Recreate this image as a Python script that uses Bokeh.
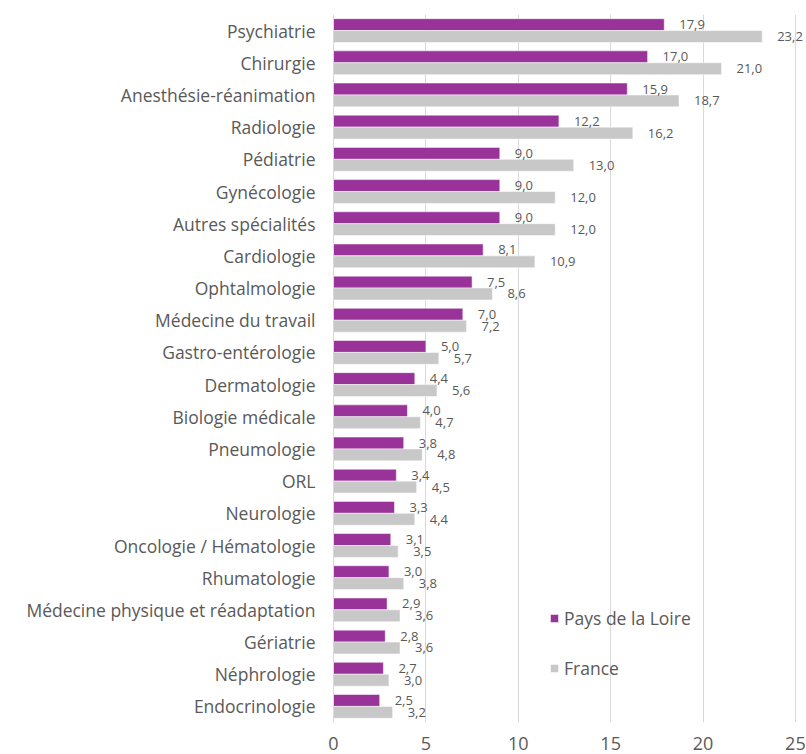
from bokeh.plotting import figure
from bokeh.models import ColumnDataSource, FactorRange, Range1d, Legend, LegendItem, LabelSet
from bokeh.transform import dodge
from bokeh.core.properties import value
from bokeh.embed import file_html
from bokeh.resources import INLINE

categories = ["Psychiatrie", "Chirurgie", "Anesthésie-réanimation", "Radiologie", "Pédiatrie",
              "Gynécologie", "Autres spécialités", "Cardiologie", "Ophtalmologie",
              "Médecine du travail", "Gastro-entérologie", "Dermatologie", "Biologie médicale",
              "Pneumologie", "ORL", "Neurologie", "Oncologie / Hématologie", "Rhumatologie",
              "Médecine physique et réadaptation", "Gériatrie", "Néphrologie", "Endocrinologie"]
pays_de_la_loire = [17.9, 17.0, 15.9, 12.2, 9.0, 9.0, 9.0, 8.1, 7.5, 7.0, 5.0, 4.4, 4.0,
                    3.8, 3.4, 3.3, 3.1, 3.0, 2.9, 2.8, 2.7, 2.5]
france = [23.2, 21.0, 18.7, 16.2, 13.0, 12.0, 12.0, 10.9, 8.6, 7.2, 5.7, 5.6, 4.7,
          4.8, 4.5, 4.4, 3.5, 3.8, 3.6, 3.6, 3.0, 3.2]
x_ticks = [0, 5, 10, 15, 20, 25]

PURPLE = "#993399"
GRAY = "#c8c8c8"
TXT = "#595959"
FONT = "Open Sans"

def fmt(v):
    return f"{v:.1f}".replace(".", ",")

src = ColumnDataSource(dict(
    cat=categories, pdl=pays_de_la_loire, fr=france,
    pdl_lbl=[fmt(v) for v in pays_de_la_loire],
    fr_lbl=[fmt(v) for v in france],
))

p = figure(width=806, height=754, output_backend="svg", toolbar_location=None,
           y_range=FactorRange(factors=list(reversed(categories)), range_padding=0),
           x_range=Range1d(0, 25.6),
           min_border_left=333, min_border_right=0, min_border_top=14, min_border_bottom=32)
p.outline_line_color = None
p.background_fill_color = "white"

bw = 0.37
off = 0.185
r1 = p.hbar(y=dodge("cat", off, range=p.y_range), right="pdl", left=0, height=bw,
            source=src, fill_color=PURPLE, line_color="white", line_width=0.5)
r2 = p.hbar(y=dodge("cat", -off, range=p.y_range), right="fr", left=0, height=bw,
            source=src, fill_color=GRAY, line_color="white", line_width=0.5)

l1 = LabelSet(x="pdl", y=dodge("cat", off, range=p.y_range), text="pdl_lbl", source=src,
              x_offset=15, text_baseline="middle", text_font=value(FONT),
              text_font_size=value("13px"), text_color=TXT)
l2 = LabelSet(x="fr", y=dodge("cat", -off, range=p.y_range), text="fr_lbl", source=src,
              x_offset=15, text_baseline="middle", text_font=value(FONT),
              text_font_size=value("13px"), text_color=TXT)
p.add_layout(l1)
p.add_layout(l2)

p.ygrid.grid_line_color = None
p.xgrid.grid_line_color = "#d9d9d9"
p.xgrid.ticker = x_ticks
p.xaxis.ticker = x_ticks
p.xaxis.axis_line_color = None
p.xaxis.major_tick_line_color = None
p.xaxis.minor_tick_line_color = None
p.xaxis.major_tick_out = 0
p.xaxis.major_label_text_font = FONT
p.xaxis.major_label_text_font_size = "18px"
p.xaxis.major_label_text_color = TXT
p.xaxis.major_label_standoff = 14

p.yaxis.axis_line_color = "#d9d9d9"
p.yaxis.major_tick_line_color = None
p.yaxis.minor_tick_line_color = None
p.yaxis.major_tick_out = 0
p.yaxis.major_label_standoff = 18
p.yaxis.major_label_text_font = FONT
p.yaxis.major_label_text_font_size = "17.5px"
p.yaxis.major_label_text_color = TXT

legend = Legend(items=[LegendItem(label="Pays de la Loire", renderers=[r1]),
                       LegendItem(label="France", renderers=[r2])],
                location=(216, 42), orientation="vertical",
                glyph_width=10, glyph_height=10, spacing=26,
                label_text_font=FONT, label_text_font_size="17.5px", label_text_color=TXT,
                label_standoff=5, background_fill_alpha=0, border_line_color=None,
                padding=4, margin=0)
p.add_layout(legend)

open("out.html", "w").write(file_html(p, INLINE))
